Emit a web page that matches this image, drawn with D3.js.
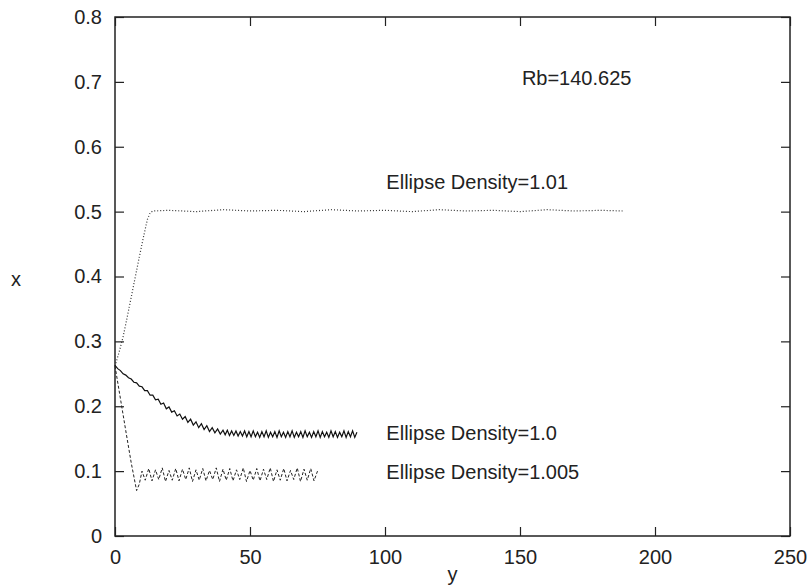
<!DOCTYPE html>
<html>
<head>
<meta charset="utf-8">
<script src="https://cdn.jsdelivr.net/npm/d3@7"></script>
<style>
  body { margin: 0; background: #fff; }
  svg text { font-family: "Liberation Sans", Arial, sans-serif; fill: #222; }
</style>
</head>
<body>
<svg id="chart" width="809" height="587"></svg>
<script>
// Datos
var xTicks = [0, 50, 100, 150, 200, 250];
var yTicks = [0, 0.1, 0.2, 0.3, 0.4, 0.5, 0.6, 0.7, 0.8];

// Ellipse Density=1.01 (punteada)
var density101 = [
  [0, 0.262], [1.5, 0.283], [3, 0.307], [4.5, 0.337], [6, 0.368], [7.5, 0.399],
  [9, 0.430], [10.5, 0.460], [12, 0.488], [13, 0.498], [14, 0.501], [20, 0.502],
  [30, 0.500], [40, 0.503], [50, 0.501], [60, 0.502], [70, 0.500], [80, 0.503],
  [90, 0.501], [100, 0.502], [110, 0.500], [120, 0.503], [130, 0.501], [140, 0.502],
  [150, 0.500], [160, 0.503], [170, 0.501], [180, 0.502], [188, 0.501]
];

// Ellipse Density=1.0 (continua, con oscilaciones)
var density100 = [
  [0, 0.263], [1, 0.258], [2, 0.255], [3, 0.250], [4, 0.248], [5, 0.244], [6, 0.242],
  [7, 0.237], [8, 0.236], [9, 0.231], [10, 0.230], [11, 0.224], [12, 0.224], [13, 0.217],
  [14, 0.217], [15, 0.210], [16, 0.211], [17, 0.203], [18, 0.205], [19, 0.196], [20, 0.199],
  [21, 0.191], [22, 0.193], [23, 0.185], [24, 0.188], [25, 0.180], [26, 0.184], [27, 0.175],
  [28, 0.180], [29, 0.171], [30, 0.176], [31, 0.167], [32, 0.173], [33, 0.164], [34, 0.170],
  [35, 0.161], [36, 0.167], [37, 0.159], [38, 0.165], [39, 0.157],
  [40, 0.163], [40.8, 0.156], [41.6, 0.163], [42.4, 0.155], [43.2, 0.162], [44, 0.155],
  [44.8, 0.162], [45.6, 0.154], [46.4, 0.161], [47.2, 0.154], [48, 0.162], [48.8, 0.153],
  [49.6, 0.161], [50.4, 0.153], [51.2, 0.162], [52, 0.153], [52.8, 0.160], [53.6, 0.152],
  [54.4, 0.161], [55.2, 0.153], [56, 0.162], [56.8, 0.152], [57.6, 0.160], [58.4, 0.153],
  [59.2, 0.161], [60, 0.152], [60.8, 0.162], [61.6, 0.153], [62.4, 0.160], [63.2, 0.152],
  [64, 0.161], [64.8, 0.153], [65.6, 0.162], [66.4, 0.152], [67.2, 0.160], [68, 0.153],
  [68.8, 0.161], [69.6, 0.152], [70.4, 0.162], [71.2, 0.153], [72, 0.160], [72.8, 0.152],
  [73.6, 0.161], [74.4, 0.153], [75.2, 0.162], [76, 0.152], [76.8, 0.161], [77.6, 0.153],
  [78.4, 0.160], [79.2, 0.152], [80, 0.162], [80.8, 0.153], [81.6, 0.161], [82.4, 0.152],
  [83.2, 0.160], [84, 0.153], [84.8, 0.162], [85.6, 0.152], [86.4, 0.161], [87.2, 0.153],
  [88, 0.162], [88.8, 0.152], [89.6, 0.160]
];

// Ellipse Density=1.005 (discontinua, zigzag)
var density1005 = [
  [0, 0.262], [2, 0.212], [4, 0.162], [6, 0.113], [8, 0.070], [9, 0.080], [10, 0.100],
  [11.2, 0.086], [12.5, 0.104], [13.7, 0.085], [15, 0.102], [16.2, 0.087], [17.5, 0.105],
  [18.7, 0.084], [20, 0.101], [21.2, 0.086], [22.5, 0.104], [23.7, 0.085], [25, 0.103],
  [26.2, 0.087], [27.5, 0.105], [28.7, 0.084], [30, 0.102], [31.2, 0.086], [32.5, 0.104],
  [33.7, 0.085], [35, 0.101], [36.2, 0.087], [37.5, 0.105], [38.7, 0.084], [40, 0.103],
  [41.2, 0.086], [42.5, 0.104], [43.7, 0.085], [45, 0.102], [46.2, 0.087], [47.5, 0.105],
  [48.7, 0.084], [50, 0.101], [51.2, 0.086], [52.5, 0.104], [53.7, 0.085], [55, 0.103],
  [56.2, 0.087], [57.5, 0.105], [58.7, 0.084], [60, 0.102], [61.2, 0.086], [62.5, 0.104],
  [63.7, 0.085], [65, 0.101], [66.2, 0.087], [67.5, 0.105], [68.7, 0.084], [70, 0.103],
  [71.2, 0.086], [72.5, 0.104], [73.7, 0.085], [75, 0.100]
];

// Etiquetas dentro del gráfico
var labels = [
  { x: 150.7, y: 0.695, text: "Rb=140.625" },
  { x: 100.5, y: 0.535, text: "Ellipse Density=1.01" },
  { x: 100.5, y: 0.148, text: "Ellipse Density=1.0" },
  { x: 100.5, y: 0.088, text: "Ellipse Density=1.005" }
];

var svg = d3.select("#chart");
var mLeft = 115, mRight = 790, mTop = 17, mBottom = 536;
var fontSize = "20px";

var x = d3.scaleLinear().domain([0, 250]).range([mLeft, mRight]);
var y = d3.scaleLinear().domain([0, 0.8]).range([mBottom, mTop]);

var fmtY = function(d) { return d === 0 ? "0" : d3.format(".1f")(d); };

// Ejes con marcas hacia adentro
var gx = svg.append("g").attr("transform", "translate(0," + mBottom + ")")
  .call(d3.axisBottom(x).tickValues(xTicks).tickSize(-9).tickPadding(14).tickFormat(d3.format("d")));
var gy = svg.append("g").attr("transform", "translate(" + mLeft + ",0)")
  .call(d3.axisLeft(y).tickValues(yTicks).tickSize(-9).tickPadding(13).tickFormat(fmtY));
var gt = svg.append("g").attr("transform", "translate(0," + mTop + ")")
  .call(d3.axisTop(x).tickValues(xTicks).tickSize(-9).tickFormat(""));
var gr = svg.append("g").attr("transform", "translate(" + mRight + ",0)")
  .call(d3.axisRight(y).tickValues(yTicks).tickSize(-9).tickFormat(""));

[gx, gy, gt, gr].forEach(function(g) {
  g.select(".domain").remove();
  g.selectAll(".tick line").attr("stroke", "#222").attr("stroke-width", 1.2);
  g.selectAll(".tick text").attr("font-size", fontSize).attr("fill", "#222")
    .style("font-family", "'Liberation Sans', Arial, sans-serif");
});

// Marco
svg.append("rect")
  .attr("x", mLeft).attr("y", mTop)
  .attr("width", mRight - mLeft).attr("height", mBottom - mTop)
  .attr("fill", "none").attr("stroke", "#222").attr("stroke-width", 1.5);

// Títulos de ejes
svg.append("text").attr("x", (mLeft + mRight) / 2).attr("y", 581)
  .attr("text-anchor", "middle").attr("font-size", fontSize).text("y");
svg.append("text").attr("x", 16).attr("y", 286)
  .attr("text-anchor", "middle").attr("font-size", fontSize).text("x");

var line = d3.line().x(function(d) { return x(d[0]); }).y(function(d) { return y(d[1]); });

svg.append("path").datum(density101).attr("d", line)
  .attr("fill", "none").attr("stroke", "#333").attr("stroke-width", 1.2)
  .attr("stroke-dasharray", "1,2");

svg.append("path").datum(density100).attr("d", line)
  .attr("fill", "none").attr("stroke", "#111").attr("stroke-width", 1.2);

svg.append("path").datum(density1005).attr("d", line)
  .attr("fill", "none").attr("stroke", "#222").attr("stroke-width", 1)
  .attr("stroke-dasharray", "3,2");

svg.selectAll("text.lbl").data(labels).enter().append("text")
  .attr("class", "lbl")
  .attr("x", function(d) { return x(d.x); })
  .attr("y", function(d) { return y(d.y); })
  .attr("font-size", fontSize)
  .text(function(d) { return d.text; });
</script>
</body>
</html>
